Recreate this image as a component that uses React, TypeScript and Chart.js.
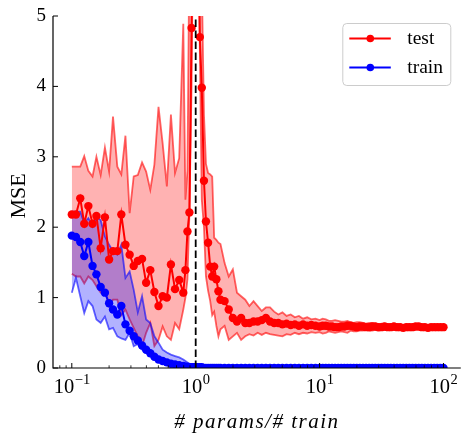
import React, { useEffect, useRef } from 'react';
import { Chart, registerables } from 'chart.js';

Chart.register(...registerables);

const SERIF = '"Liberation Serif", "Times New Roman", "DejaVu Serif", serif';

// x = # params / # train
const xValues = [
  0.100, 0.108, 0.117, 0.126, 0.136, 0.147, 0.158, 0.171, 0.185, 0.200, 0.215, 0.233, 0.251, 0.271,
  0.293, 0.316, 0.341, 0.369, 0.398, 0.430, 0.464, 0.501, 0.541, 0.585, 0.631, 0.681, 0.736, 0.794,
  0.826, 0.858, 0.890, 0.926, 0.950, 0.975, 1.000,
  1.04, 1.08, 1.12, 1.166, 1.21, 1.259, 1.31, 1.359, 1.41, 1.468, 1.526, 1.585,
  1.711, 1.848, 1.995, 2.154, 2.326, 2.512, 2.712, 2.929, 3.162, 3.415, 3.687, 3.981, 4.299, 4.642,
  5.012, 5.412, 5.843, 6.31, 6.813, 7.356, 7.943, 8.577, 9.261,
  10, 10.59, 11.22, 11.89, 12.59, 13.34, 14.13, 14.96, 15.85, 16.79, 17.78, 18.84, 19.95, 21.13,
  22.39, 23.71, 25.12, 26.61, 28.18, 29.85, 31.62, 33.5, 35.48, 37.58, 39.81, 42.17, 44.67, 47.32,
  50.12, 53.09, 56.23, 59.57, 63.1, 66.83, 70.79, 74.99, 79.43, 84.14, 89.13, 94.41, 100,
];

const testMean = [
  2.18, 2.18, 2.41, 2.05, 2.30, 2.05, 2.16, 1.70, 2.14, 1.54, 1.66, 1.66, 2.18, 1.75,
  1.61, 1.45, 1.52, 1.55, 1.21, 1.39, 1.08, 0.88, 1.02, 1.00, 1.47, 1.12, 1.25, 1.07,
  1.39, 1.94, 2.21, 4.83, 6.5, 8.0, 9.0,
  7.0, 4.7, 3.98, 2.66, 2.08, 1.78, 1.44, 1.30, 1.44, 1.26, 1.09, 0.97,
  0.95, 0.83, 0.71, 0.66, 0.71, 0.64, 0.64, 0.66, 0.66, 0.68, 0.71, 0.66, 0.64, 0.64,
  0.62, 0.63, 0.61, 0.62, 0.60, 0.62, 0.60, 0.61, 0.60,
  0.59, 0.60, 0.60, 0.59, 0.59, 0.58, 0.58, 0.59, 0.59, 0.60, 0.60, 0.59, 0.58, 0.59,
  0.59, 0.58, 0.58, 0.59, 0.59, 0.58, 0.58, 0.59, 0.58, 0.58, 0.59, 0.58, 0.58, 0.57,
  0.58, 0.58, 0.58, 0.59, 0.59, 0.58, 0.58, 0.57, 0.58, 0.58, 0.58, 0.58, 0.58,
];

const testUpper = [
  2.86, 2.86, 2.86, 3.01, 2.80, 2.72, 3.00, 2.74, 3.13, 2.79, 3.57, 2.86, 2.75, 3.30,
  2.20, 2.72, 2.74, 2.92, 2.79, 2.53, 2.89, 3.71, 3.19, 2.58, 3.60, 2.77, 2.98, 4.89,
  2.39, 2.8, 6.0, 9.0, 10.0, 10.0, 10.0,
  9.0, 7.0, 5.5, 3.6, 2.9, 2.77, 2.75, 2.72, 1.85, 1.82, 1.78, 1.76,
  1.49, 1.30, 1.40, 1.07, 1.02, 0.97, 0.88, 0.95, 0.88, 0.81, 0.86, 0.86, 0.80, 0.76,
  0.79, 0.74, 0.76, 0.72, 0.74, 0.70, 0.72, 0.69, 0.70,
  0.68, 0.70, 0.69, 0.67, 0.67, 0.68, 0.67, 0.66, 0.66, 0.67, 0.65, 0.64, 0.65, 0.65,
  0.64, 0.63, 0.64, 0.64, 0.63, 0.62, 0.63, 0.63, 0.62, 0.62, 0.63, 0.62, 0.62, 0.61,
  0.62, 0.62, 0.61, 0.62, 0.61, 0.61, 0.61, 0.60, 0.61, 0.61, 0.60, 0.61, 0.60,
];

const testLower = [
  1.34, 1.30, 1.30, 1.20, 1.30, 1.25, 1.16, 1.07, 1.10, 0.88, 0.97, 0.97, 0.75, 0.83,
  0.69, 0.57, 0.45, 0.31, 0.50, 0.64, 0.31, 0.40, 0.59, 0.45, 0.40, 0.64, 0.55, 0.83,
  1.00, 1.26, 2.2, 4.0, 6.0, 7.0, 8.0,
  7.0, 4.5, 2.39, 2.0, 1.3, 1.1, 0.95, 0.75, 0.80, 0.60, 0.45, 0.55,
  0.60, 0.40, 0.45, 0.50, 0.40, 0.45, 0.48, 0.46, 0.50, 0.47, 0.50, 0.48, 0.47, 0.46,
  0.45, 0.48, 0.47, 0.50, 0.48, 0.50, 0.49, 0.51, 0.50,
  0.51, 0.49, 0.50, 0.52, 0.51, 0.50, 0.51, 0.52, 0.51, 0.50, 0.53, 0.52, 0.52, 0.53,
  0.53, 0.54, 0.53, 0.53, 0.54, 0.53, 0.54, 0.54, 0.54, 0.55, 0.54, 0.54, 0.55, 0.54,
  0.55, 0.55, 0.55, 0.55, 0.55, 0.56, 0.55, 0.55, 0.55, 0.56, 0.56, 0.55, 0.55,
];

const trainMean = [
  1.88, 1.86, 1.79, 1.59, 1.79, 1.45, 1.33, 1.15, 1.07, 0.92, 0.83, 0.76, 0.88, 0.62,
  0.53, 0.45, 0.39, 0.32, 0.26, 0.21, 0.16, 0.12, 0.10, 0.08, 0.06, 0.05, 0.04, 0.03,
  0.02, 0.02, 0.01, 0.01, 0.01, 0.01, 0.01,
  0.01, 0.01, 0.01, 0, 0, 0, 0, 0, 0, 0, 0, 0,
  0, 0, 0, 0, 0, 0, 0, 0, 0, 0, 0, 0, 0, 0,
  0, 0, 0, 0, 0, 0, 0, 0, 0,
  0, 0, 0, 0, 0, 0, 0, 0, 0, 0, 0, 0, 0, 0,
  0, 0, 0, 0, 0, 0, 0, 0, 0, 0, 0, 0, 0, 0,
  0, 0, 0, 0, 0, 0, 0, 0, 0, 0, 0, 0, 0,
];

const trainUpper = [
  2.22, 2.22, 2.22, 2.06, 2.13, 2.01, 2.15, 2.10, 1.87, 1.75, 1.66, 1.61, 1.75, 1.28,
  1.37, 1.11, 0.79, 1.02, 0.69, 0.64, 0.45, 0.36, 0.26, 0.22, 0.19, 0.17, 0.15, 0.12,
  0.10, 0.08, 0.06, 0.04, 0.03, 0.02, 0.02,
  0.01, 0.01, 0.01, 0.01, 0, 0, 0, 0, 0, 0, 0, 0,
  0, 0, 0, 0, 0, 0, 0, 0, 0, 0, 0, 0, 0, 0,
  0, 0, 0, 0, 0, 0, 0, 0, 0,
  0, 0, 0, 0, 0, 0, 0, 0, 0, 0, 0, 0, 0, 0,
  0, 0, 0, 0, 0, 0, 0, 0, 0, 0, 0, 0, 0, 0,
  0, 0, 0, 0, 0, 0, 0, 0, 0, 0, 0, 0, 0,
];

const trainLower = [
  1.07, 1.28, 1.02, 0.78, 0.95, 0.88, 0.69, 0.64, 0.73, 0.55, 0.57, 0.45, 0.42, 0.40,
  0.50, 0.31, 0.34, 0.26, 0.22, 0.17, 0.14, 0.10, 0.07, 0.05, 0.04, 0.03, 0.02, 0.01,
  0.01, 0.01, 0, 0, 0, 0, 0,
  0, 0, 0, 0, 0, 0, 0, 0, 0, 0, 0, 0,
  0, 0, 0, 0, 0, 0, 0, 0, 0, 0, 0, 0, 0, 0,
  0, 0, 0, 0, 0, 0, 0, 0, 0,
  0, 0, 0, 0, 0, 0, 0, 0, 0, 0, 0, 0, 0, 0,
  0, 0, 0, 0, 0, 0, 0, 0, 0, 0, 0, 0, 0, 0,
  0, 0, 0, 0, 0, 0, 0, 0, 0, 0, 0, 0, 0,
];

const yTicks = [0, 1, 2, 3, 4, 5];
const xMajorTicks = [0.1, 1, 10, 100];
const xTickBase = ['10', '10', '10', '10'];
const xTickExp = ['\u22121', '0', '1', '2'];
const legendLabels = ['test', 'train'];
const legendColors = ['#ff0000', '#0000ff'];
const xTitle = '# params/# train';
const yTitle = 'MSE';
const threshold = 1;

const decor = {
  id: 'decor',
  afterDatasetsDraw(chart: any) {
    const { ctx, chartArea: a, scales } = chart;
    const px = scales.x.getPixelForValue(threshold);
    ctx.save();
    ctx.beginPath();
    ctx.rect(a.left, a.top, a.right - a.left, a.bottom - a.top);
    ctx.clip();
    ctx.setLineDash([7.5, 3.5]);
    ctx.lineWidth = 1.8;
    ctx.strokeStyle = '#000';
    ctx.beginPath();
    ctx.moveTo(px, a.bottom);
    ctx.lineTo(px, a.top);
    ctx.stroke();
    ctx.restore();
  },
  afterDraw(chart: any) {
    const { ctx, chartArea: a, scales } = chart;
    const xs = scales.x;
    const ys = scales.y;
    ctx.save();
    ctx.strokeStyle = '#000';
    ctx.lineWidth = 1.2;
    ctx.beginPath();
    ctx.moveTo(a.left, a.top);
    ctx.lineTo(a.left, a.bottom);
    ctx.lineTo(a.right, a.bottom);
    ctx.stroke();
    ctx.lineWidth = 1;
    ctx.fillStyle = '#000';
    ctx.font = `19px ${SERIF}`;
    ctx.textAlign = 'right';
    ctx.textBaseline = 'middle';
    for (const t of yTicks) {
      const py = ys.getPixelForValue(t);
      ctx.beginPath();
      ctx.moveTo(a.left, py);
      ctx.lineTo(a.left + 5, py);
      ctx.stroke();
      ctx.fillText(String(t), a.left - 7, py);
    }
    ctx.lineWidth = 0.8;
    for (let d = -2; d <= 2; d++) {
      for (let k = 2; k <= 9; k++) {
        const v = k * Math.pow(10, d);
        if (v < xs.min || v > xs.max) continue;
        const px = xs.getPixelForValue(v);
        ctx.beginPath();
        ctx.moveTo(px, a.bottom);
        ctx.lineTo(px, a.bottom - 2.7);
        ctx.stroke();
      }
    }
    ctx.lineWidth = 1;
    ctx.textAlign = 'left';
    ctx.textBaseline = 'alphabetic';
    xMajorTicks.forEach((v, i) => {
      const px = xs.getPixelForValue(v);
      ctx.beginPath();
      ctx.moveTo(px, a.bottom);
      ctx.lineTo(px, a.bottom - 5);
      ctx.stroke();
      ctx.font = `20.5px ${SERIF}`;
      const wb = ctx.measureText(xTickBase[i]).width;
      ctx.font = `14.5px ${SERIF}`;
      const we = ctx.measureText(xTickExp[i]).width;
      const start = px - (wb + we) / 2;
      ctx.font = `20.5px ${SERIF}`;
      ctx.fillText(xTickBase[i], start, a.bottom + 25);
      ctx.font = `14.5px ${SERIF}`;
      ctx.fillText(xTickExp[i], start + wb + 0.5, a.bottom + 16);
    });
    ctx.font = `italic 21px ${SERIF}`;
    try { (ctx as any).letterSpacing = '1.5px'; } catch (e) {}
    ctx.textAlign = 'center';
    ctx.fillText(xTitle, (a.left + a.right) / 2, a.bottom + 60);
    try { (ctx as any).letterSpacing = '0px'; } catch (e) {}
    ctx.save();
    ctx.translate(a.left - 33.5, (a.top + a.bottom) / 2 + 4);
    ctx.rotate(-Math.PI / 2);
    ctx.font = `22px ${SERIF}`;
    ctx.textAlign = 'center';
    ctx.textBaseline = 'middle';
    ctx.fillText(yTitle, 0, 0);
    ctx.restore();
    const lx = a.right - 118;
    const ly = a.top + 7.5;
    const lw = 108;
    const lh = 62;
    ctx.beginPath();
    ctx.roundRect(lx, ly, lw, lh, 4);
    ctx.fillStyle = 'rgba(255,255,255,0.8)';
    ctx.fill();
    ctx.strokeStyle = '#cccccc';
    ctx.lineWidth = 1;
    ctx.stroke();
    legendLabels.forEach((lab, i) => {
      const ry = ly + 15 + i * 29;
      ctx.strokeStyle = legendColors[i];
      ctx.lineWidth = 2;
      ctx.beginPath();
      ctx.moveTo(lx + 6.5, ry);
      ctx.lineTo(lx + 48, ry);
      ctx.stroke();
      ctx.fillStyle = legendColors[i];
      ctx.beginPath();
      ctx.arc(lx + 27.5, ry, 3.8, 0, Math.PI * 2);
      ctx.fill();
      ctx.fillStyle = '#000';
      ctx.font = `19.5px ${SERIF}`;
      ctx.textAlign = 'left';
      ctx.textBaseline = 'middle';
      ctx.fillText(lab, lx + 64.5, ry);
    });
    ctx.restore();
  },
};

export default function App() {
  const ref = useRef<HTMLCanvasElement>(null);
  useEffect(() => {
    const pts = (ys: number[]) => xValues.map((x, i) => ({ x, y: ys[i] }));
    const band = (data: number[], color: string, fill: any, bg: string, order: number) => ({
      data: pts(data),
      borderColor: color,
      borderWidth: 1.8,
      backgroundColor: bg,
      pointRadius: 0,
      tension: 0,
      fill,
      order,
    });
    const mean = (label: string, data: number[], color: string, order: number) => ({
      label,
      data: pts(data),
      borderColor: color,
      backgroundColor: color,
      borderWidth: 2,
      pointRadius: 4.2,
      pointBorderWidth: 0,
      pointBackgroundColor: color,
      tension: 0,
      fill: false,
      order,
    });
    const chart = new Chart(ref.current as HTMLCanvasElement, {
      type: 'line',
      data: {
        datasets: [
          band(testUpper, 'rgba(255,0,0,0.6)', false, 'rgba(255,0,0,0.3)', 3),
          band(testLower, 'rgba(255,0,0,0.6)', '-1', 'rgba(255,0,0,0.3)', 3),
          band(trainUpper, 'rgba(0,0,255,0.6)', false, 'rgba(0,0,255,0.3)', 2),
          band(trainLower, 'rgba(0,0,255,0.6)', '-1', 'rgba(0,0,255,0.3)', 2),
          mean(legendLabels[0], testMean, '#ff0000', 1),
          mean(legendLabels[1], trainMean, '#0000ff', 0),
        ] as any,
      },
      options: {
        responsive: false,
        animation: false,
        events: [],
        layout: { padding: { top: 16, right: 2, left: 0, bottom: 0 } },
        plugins: { legend: { display: false }, tooltip: { enabled: false } },
        scales: {
          x: {
            type: 'logarithmic',
            min: 0.0705,
            max: 138,
            grid: { display: false },
            border: { display: false },
            ticks: { display: false },
            afterFit: (s: any) => { s.height = 71; },
          },
          y: {
            type: 'linear',
            min: 0,
            max: 5,
            grid: { display: false },
            border: { display: false },
            ticks: { display: false },
            afterFit: (s: any) => { s.width = 53; },
          },
        },
      } as any,
      plugins: [decor],
    });
    return () => chart.destroy();
  }, []);
  return (
    <div style={{ position: 'absolute', left: 0, top: 0, width: 465, height: 439, background: '#fff' }}>
      <canvas ref={ref} width={465} height={439} style={{ display: 'block' }} />
    </div>
  );
}
